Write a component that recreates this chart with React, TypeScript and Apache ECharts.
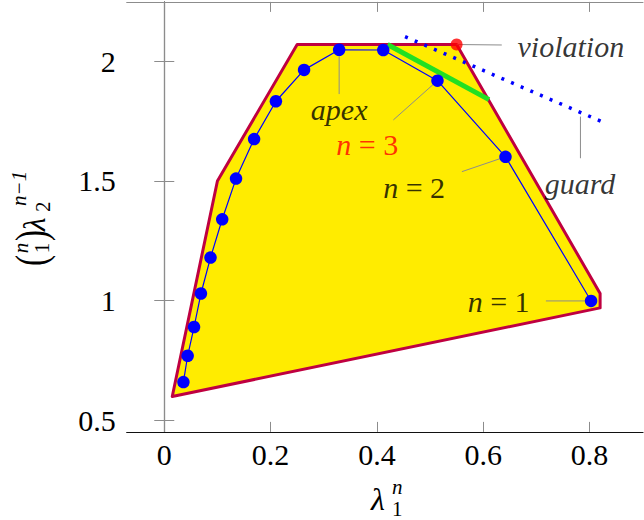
import React, { useEffect, useRef } from "react";
import * as echarts from "echarts";

// ---- data ----
const xTicks = [0, 0.2, 0.4, 0.6, 0.8];
const yTicks = [0.5, 1, 1.5, 2];

const regionX = [0.015, 0.1, 0.25, 0.55, 0.82, 0.82];
const regionY = [0.6, 1.5, 2.07, 2.07, 1.03, 0.97];

const seqX = [0.036, 0.044, 0.056, 0.069, 0.087, 0.109, 0.135, 0.169, 0.21, 0.263, 0.329, 0.412, 0.514, 0.642, 0.803];
const seqY = [0.66, 0.77, 0.89, 1.03, 1.18, 1.34, 1.51, 1.675, 1.833, 1.964, 2.048, 2.047, 1.919, 1.601, 0.999];

const edgeX = [0.42, 0.611];
const edgeY = [2.07, 1.84];

const guardX = [0.453, 0.823];
const guardY = [2.103, 1.748];

const violationX = [0.55];
const violationY = [2.07];

const labelNames = ["apex", "n = 3", "n = 2", "n = 1", "violation", "guard"];
const labelColors = ["#000000", "#FF0000", "#000000", "#000000", "#000000", "#000000"];
const labelX = [0.329, 0.382, 0.47, 0.629, 0.765, 0.782];
const labelY = [1.8, 1.653, 1.471, 0.995, 2.06, 1.488];

const pinFromX = [0.329, 0.514, 0.642, 0.803, 0.55, 0.783];
const pinFromY = [2.048, 1.919, 1.601, 0.999, 2.07, 1.769];
const pinToX = [0.329, 0.431, 0.56, 0.718, 0.635, 0.783];
const pinToY = [1.863, 1.755, 1.539, 0.999, 2.068, 1.595];

const X_MIN = -0.0707;
const X_MAX = 0.9007;
const Y_MIN = 0.452;
const Y_MAX = 2.248;

const FONT = "Liberation Serif";

export default function App() {
  const ref = useRef<HTMLDivElement>(null);

  useEffect(() => {
    const chart = echarts.init(ref.current!, null, { renderer: "svg" });

    const tickStyle = { color: "#8c8c8c", width: 1 };

    const pinSeries = pinFromX.map((_, i) => ({
      type: "line",
      data: [
        [pinFromX[i], pinFromY[i]],
        [pinToX[i], pinToY[i]],
      ],
      symbol: "none",
      lineStyle: { color: "#8c8c8c", width: 1 },
      z: 4,
      silent: true,
    }));

    const richFor = (name: string) => {
      if (name.startsWith("n = ")) return `{i|n}{u| = ${name.slice(4)}}`;
      return `{i|${name}}`;
    };

    const txt = (text: string, x: number, y: number, size: number, italic: boolean, extra: any = {}, align = "left") => ({
      type: "text",
      x,
      y,
      ...extra,
      style: {
        text,
        fontFamily: FONT,
        fontStyle: italic ? "italic" : "normal",
        fontSize: size,
        fill: "#000",
        verticalAlign: "middle",
        align,
      },
    });

    const option: any = {
      animation: false,
      backgroundColor: "#fff",
      grid: { left: 126.7, top: 1.9, width: 516.3, height: 430.0, containLabel: false },
      xAxis: [
        {
          type: "value",
          min: X_MIN,
          max: X_MAX,
          position: "bottom",
          axisLine: { show: true, lineStyle: { color: "#111", width: 1.2 } },
          axisTick: { show: true, inside: true, length: 10, lineStyle: tickStyle, customValues: xTicks },
          axisLabel: { fontFamily: FONT, fontSize: 30, color: "#000", margin: 8, customValues: xTicks, formatter: (v: number) => String(v) },
          splitLine: { show: false },
        },
        {
          type: "value",
          min: X_MIN,
          max: X_MAX,
          position: "top",
          axisLine: { show: true, lineStyle: { color: "#8c8c8c", width: 1 } },
          axisTick: { show: true, inside: true, length: 10, lineStyle: tickStyle, customValues: xTicks },
          axisLabel: { show: false },
          splitLine: { show: false },
        },
      ],
      yAxis: [
        {
          type: "value",
          min: Y_MIN,
          max: Y_MAX,
          position: "left",
          axisLine: { show: true, lineStyle: { color: "#333", width: 1.2 } },
          axisTick: { show: true, inside: true, length: 10, lineStyle: tickStyle, customValues: yTicks },
          axisLabel: { fontFamily: FONT, fontSize: 30, color: "#000", margin: 11, customValues: yTicks, formatter: (v: number) => String(v) },
          splitLine: { show: false },
        },
        {
          type: "value",
          min: Y_MIN,
          max: Y_MAX,
          position: "right",
          axisLine: { show: true, lineStyle: { color: "#8c8c8c", width: 1 } },
          axisTick: { show: true, inside: true, length: 10, lineStyle: tickStyle, customValues: yTicks },
          axisLabel: { show: false },
          splitLine: { show: false },
        },
      ],
      series: [
        {
          type: "custom",
          silent: true,
          z: 1,
          data: [[regionX[0], regionY[0]]],
          renderItem: (_params: any, api: any) => {
            const pts = regionX.map((x, i) => api.coord([x, regionY[i]]));
            return {
              type: "polygon",
              shape: { points: pts },
              style: { fill: "#FFEC00", stroke: "#BF0040", lineWidth: 3, lineJoin: "round" },
            };
          },
        },
        {
          type: "line",
          data: edgeX.map((x, i) => [x, edgeY[i]]),
          symbol: "none",
          lineStyle: { color: "#22E022", width: 5 },
          z: 2,
          silent: true,
        },
        {
          type: "line",
          data: guardX.map((x, i) => [x, guardY[i]]),
          symbol: "none",
          lineStyle: { color: "#0000FF", width: 3.5, type: [3, 7.5], cap: "butt" },
          z: 2,
          silent: true,
        },
        ...pinSeries,
        {
          type: "line",
          data: seqX.map((x, i) => [x, seqY[i]]),
          symbol: "circle",
          symbolSize: 12.5,
          itemStyle: { color: "#0000FF" },
          lineStyle: { color: "#0000FF", width: 1.2 },
          z: 5,
          silent: true,
        },
        {
          type: "scatter",
          data: violationX.map((x, i) => [x, violationY[i]]),
          symbol: "circle",
          symbolSize: 12,
          itemStyle: { color: "#FF0000" },
          z: 6,
          silent: true,
        },
        {
          type: "scatter",
          data: labelX.map((x, i) => ({
            value: [x, labelY[i]],
            label: {
              formatter: richFor(labelNames[i]),
              rich: {
                i: { fontFamily: FONT, fontSize: 30, lineHeight: 26, fontStyle: "italic", color: labelColors[i] },
                u: { fontFamily: FONT, fontSize: 30, lineHeight: 26, fontStyle: "normal", color: labelColors[i] },
              },
            },
          })),
          symbolSize: 1,
          itemStyle: { color: "rgba(0,0,0,0)" },
          label: { show: true, position: "inside", fontFamily: FONT, fontSize: 30, lineHeight: 26 },
          labelLayout: { hideOverlap: false },
          z: 7,
          silent: true,
        },
      ],
      graphic: [
        {
          type: "group",
          x: 31,
          y: 220,
          rotation: Math.PI / 2,
          children: [
            txt("(", -46, 0, 44, false, { scaleX: 0.75 }),
            txt("n", -28, -10, 21, true, {}, "center"),
            txt("1", -28, 11, 21, false, {}, "center"),
            txt(")", -21, 0, 44, false, { scaleX: 0.75 }),
            txt("λ", -11, 3, 31, true),
            txt("2", 8, 12, 21, false),
            txt("n−1", 14, -12, 21, true),
          ],
        },
        txt("λ", 371, 499, 32, true),
        txt("n", 392, 487, 21, true),
        txt("1", 392, 509, 21, false),
      ],
    };

    chart.setOption(option);
    return () => chart.dispose();
  }, []);

  return (
    <div
      ref={ref}
      style={{ position: "fixed", left: 0, top: 0, width: 644, height: 520, background: "#fff" }}
    />
  );
}
